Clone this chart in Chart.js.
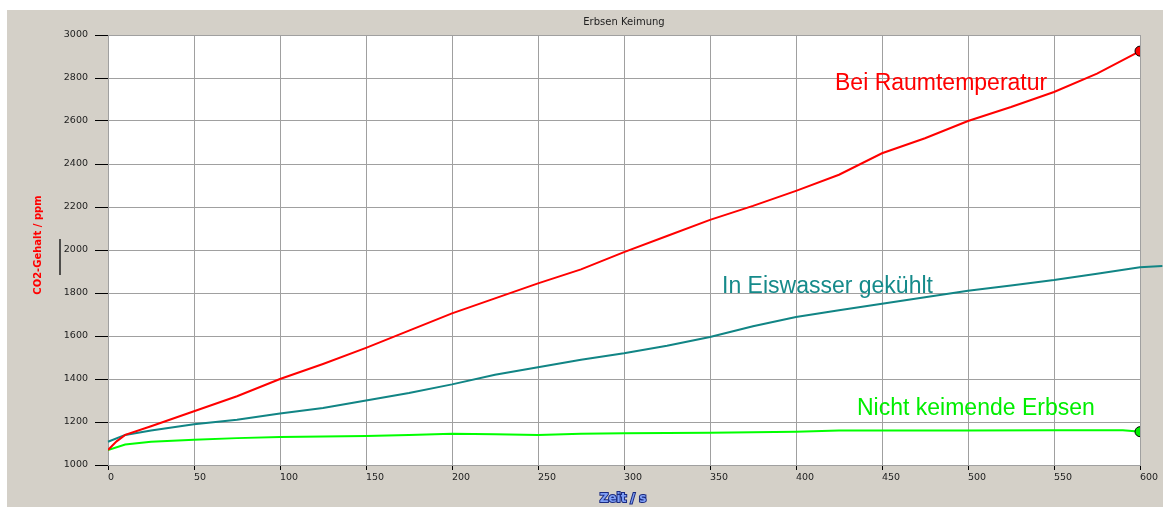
<!DOCTYPE html>
<html>
<head>
<meta charset="utf-8">
<script src="https://cdn.jsdelivr.net/npm/chart.js@4/dist/chart.umd.min.js"></script>
<style>
  html, body { margin: 0; padding: 0; background: #ffffff; }
  #c { display: block; }
</style>
</head>
<body>
<canvas id="c" width="1163" height="507"></canvas>
<script>
// ---- data ----
const chartTitle = "Erbsen Keimung";
const yTitle = "CO2-Gehalt / ppm";
const xTitle = "Zeit / s";

const timeRed   = [0, 5, 10, 25, 50, 75, 100, 125, 150, 175, 200, 225, 250, 275, 300, 325, 350, 375, 400, 425, 450, 475, 500, 525, 550, 575, 600];
const valuesRed = [1070, 1110, 1140, 1180, 1250, 1320, 1400, 1470, 1545, 1625, 1705, 1775, 1845, 1910, 1990, 2065, 2140, 2205, 2275, 2350, 2450, 2520, 2600, 2665, 2735, 2820, 2925];

// the teal curve runs on a little past the right edge of the plot (to ~613 s)
const timeTeal   = [0, 10, 25, 50, 75, 100, 125, 150, 175, 200, 225, 250, 275, 300, 325, 350, 375, 400, 425, 450, 475, 500, 525, 550, 575, 600, 613];
const valuesTeal = [1108, 1140, 1160, 1190, 1210, 1240, 1265, 1300, 1335, 1375, 1420, 1455, 1490, 1520, 1555, 1595, 1645, 1688, 1720, 1750, 1780, 1810, 1835, 1860, 1890, 1920, 1926];

const timeGreen   = [0, 10, 25, 50, 75, 100, 125, 150, 175, 200, 225, 250, 275, 300, 350, 400, 425, 450, 500, 550, 590, 597, 600];
const valuesGreen = [1070, 1095, 1108, 1118, 1125, 1130, 1132, 1135, 1140, 1145, 1143, 1140, 1145, 1148, 1150, 1155, 1160, 1160, 1160, 1162, 1162, 1157, 1155];

const seriesLabels = ["Bei Raumtemperatur", "In Eiswasser gekühlt", "Nicht keimende Erbsen"];
const xTicksStep = 50;
const yTicksStep = 200;

function pairs(t, v) { return t.map((x, i) => ({ x: x, y: v[i] })); }
function endDot(len) { return (ctx) => ctx.dataIndex === len - 1 ? 5 : 0; }

const bgPlugin = {
  id: 'bg',
  beforeDraw(chart) {
    const c = chart.ctx, a = chart.chartArea;
    c.save();
    c.fillStyle = '#ffffff';
    c.fillRect(0, 0, chart.width, chart.height);
    c.fillStyle = '#d4d0c8';
    c.fillRect(7, 10, chart.width - 7, chart.height - 10);
    c.fillStyle = '#ffffff';
    c.fillRect(a.left, a.top, a.right - a.left, a.bottom - a.top);
    c.restore();
  },
  beforeDatasetsDraw(chart) {
    const c = chart.ctx;
    c.save();
    c.font = '23px "Liberation Sans", Arial, sans-serif';
    c.textBaseline = 'alphabetic';
    c.textAlign = 'left';
    c.fillStyle = '#ff0000';
    c.fillText(seriesLabels[0], 835, 90);
    c.fillStyle = '#158a8a';
    c.fillText(seriesLabels[1], 722, 293);
    c.fillStyle = '#00ee00';
    c.fillText(seriesLabels[2], 857, 415);
    c.restore();
  },
  afterDraw(chart) {
    const c = chart.ctx, a = chart.chartArea;
    c.save();
    c.font = '10px "DejaVu Sans", sans-serif';
    c.fillStyle = '#222222';
    c.textAlign = 'center';
    c.textBaseline = 'middle';
    c.fillText(chartTitle, (a.left + a.right) / 2, 22);
    c.save();
    c.translate(38, 245);
    c.rotate(-Math.PI / 2);
    c.font = 'bold 10px "DejaVu Sans", sans-serif';
    c.fillStyle = '#ff0000';
    c.fillText(yTitle, 0, 0);
    c.restore();
    c.strokeStyle = '#222222';
    c.lineWidth = 1.5;
    c.beginPath();
    c.moveTo(60, 239);
    c.lineTo(60, 275);
    c.stroke();
    c.font = 'bold 12px "DejaVu Sans", sans-serif';
    c.lineWidth = 2;
    c.strokeStyle = '#1a2a80';
    c.strokeText(xTitle, 623, 499);
    c.fillStyle = '#7f9ff5';
    c.fillText(xTitle, 623, 499);
    c.restore();
  }
};

// a trailing empty point marks the teal data as unsorted, so Chart.js keeps
// the samples beyond the axis maximum and (with clip:false) draws them
const tealData = pairs(timeTeal, valuesTeal).concat([{ x: null, y: null }]);

new Chart(document.getElementById('c'), {
  type: 'line',
  data: {
    datasets: [
      {
        data: pairs(timeRed, valuesRed),
        borderColor: '#ff0000',
        backgroundColor: '#ff0000',
        borderWidth: 2,
        pointRadius: endDot(timeRed.length),
        pointBorderColor: '#000000',
        pointBorderWidth: 1,
        tension: 0
      },
      {
        data: tealData,
        borderColor: '#118585',
        borderWidth: 2,
        pointRadius: 0,
        clip: false,
        tension: 0
      },
      {
        data: pairs(timeGreen, valuesGreen),
        borderColor: '#00ff00',
        backgroundColor: '#00ee00',
        borderWidth: 2,
        pointRadius: endDot(timeGreen.length),
        pointBorderColor: '#000000',
        pointBorderWidth: 1,
        tension: 0
      }
    ]
  },
  options: {
    responsive: false,
    animation: false,
    devicePixelRatio: 1,
    layout: { padding: { top: 35, right: 23, left: 0, bottom: 0 } },
    plugins: { legend: { display: false }, tooltip: { enabled: false }, title: { display: false } },
    scales: {
      x: {
        type: 'linear',
        min: 0, max: 600,
        afterFit(s) { s.height = 42; },
        grid: { color: '#a0a0a0', lineWidth: 1, tickColor: '#000000', tickLength: 5 },
        border: { color: '#a0a0a0' },
        ticks: {
          stepSize: xTicksStep, align: 'start', padding: 2,
          color: '#222222', font: { family: '"DejaVu Sans", sans-serif', size: 9.5 },
          maxRotation: 0,
          callback: (v) => String(v)
        }
      },
      y: {
        min: 1000, max: 3000,
        afterFit(s) { s.width = 108; },
        grid: { color: '#a0a0a0', lineWidth: 1, tickColor: '#000000', tickLength: 13 },
        border: { color: '#a0a0a0' },
        ticks: {
          stepSize: yTicksStep, padding: 7,
          color: '#222222', font: { family: '"DejaVu Sans", sans-serif', size: 9.5 },
          callback: (v) => String(v)
        }
      }
    }
  },
  plugins: [bgPlugin]
});
</script>
</body>
</html>
